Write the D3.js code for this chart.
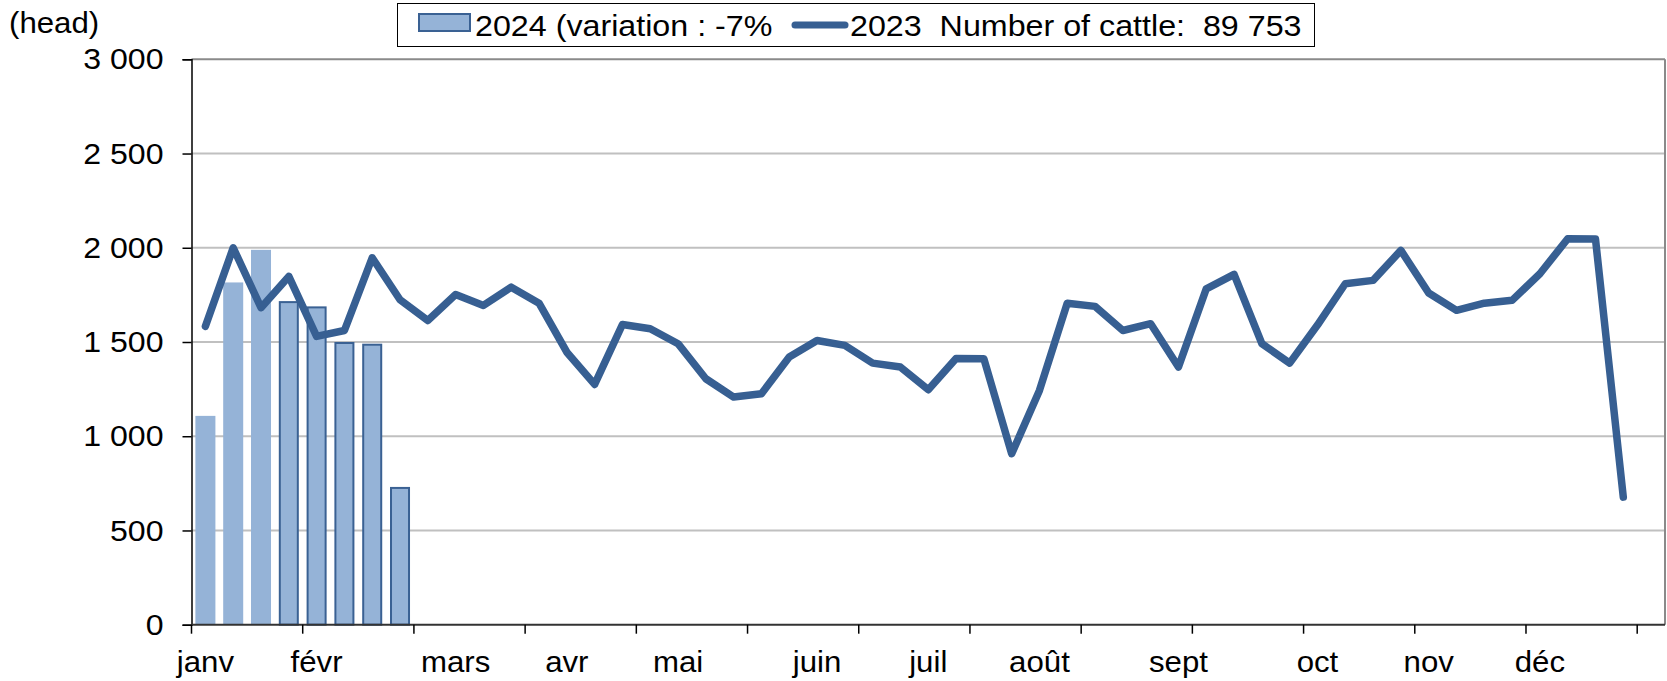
<!DOCTYPE html>
<html>
<head>
<meta charset="utf-8">
<script src="https://cdn.jsdelivr.net/npm/d3@7"></script>
<style>
  html, body { margin: 0; padding: 0; background: #fff; }
  svg { display: block; }
  text { font-family: "Liberation Sans", Arial, sans-serif; fill: #000; }
</style>
</head>
<body>
<svg id="chart" width="1667" height="681"></svg>
<script>
// ---- data ----
const weeks = [1,2,3,4,5,6,7,8,9,10,11,12,13,14,15,16,17,18,19,20,21,22,23,24,25,26,27,28,29,30,31,32,33,34,35,36,37,38,39,40,41,42,43,44,45,46,47,48,49,50,51,52,53];
const monthLabels = ["janv","févr","mars","avr","mai","juin","juil","août","sept","oct","nov","déc"];
const monthWeeks = [1,5,10,14,18,23,27,31,36,41,45,49];
const tickWeeks = [1,5,9,13,17,21,25,29,33,37,41,45,49,53];
const yTicks = [0,500,1000,1500,2000,2500,3000];
const values2024 = [1108,1816,1989,1717,1689,1500,1491,731];
const values2023 = [1583,2000,1682,1848,1530,1561,1947,1724,1614,1752,1694,1791,1706,1446,1275,1593,1570,1491,1305,1208,1225,1420,1508,1482,1388,1367,1247,1413,1411,907,1243,1706,1689,1561,1597,1367,1782,1859,1491,1388,1590,1809,1827,1986,1760,1668,1706,1721,1862,2048,2046,677];
const legend2024 = "2024 (variation : -7%";
const legend2023 = "2023  Number of cattle:  89 753";
const yUnit = "(head)";

// ---- layout ----
const pL = 191.5, pR = 1665, pT = 59.3, pB = 624.7;
const svg = d3.select("#chart");

const x = d3.scaleBand().domain(weeks).range([pL, pR]).paddingInner(0.28).paddingOuter(0.14);
const y = d3.scaleLinear().domain([0, 3000]).range([pB, pT]);
const fr = d3.formatLocale({decimal: ",", thousands: " ", grouping: [3], currency: ["", ""]});
const fmt = fr.format(",d");
const half = (x.step() - x.bandwidth()) / 2;
const boundary = w => x(w) - half;
const center = w => x(w) + x.bandwidth() / 2;

// gridlines
svg.append("g").selectAll("line").data(yTicks.filter(v => v > 0 && v < 3000)).join("line")
  .attr("x1", pL).attr("x2", pR).attr("y1", d => y(d)).attr("y2", d => y(d))
  .attr("stroke", "#c0c0c0").attr("stroke-width", 2);

// plot frame top/right
svg.append("line").attr("x1", pL).attr("x2", pR).attr("y1", y(3000)).attr("y2", y(3000))
  .attr("stroke", "#8a8a8a").attr("stroke-width", 2);
svg.append("line").attr("x1", pR).attr("x2", pR).attr("y1", y(3000)).attr("y2", y(0))
  .attr("stroke", "#8a8a8a").attr("stroke-width", 2);

// bars
svg.append("g").selectAll("rect").data(values2024).join("rect")
  .attr("x", (d, i) => x(weeks[i]) + (i < 3 ? 0 : 1))
  .attr("width", (d, i) => x.bandwidth() - (i < 3 ? 0 : 2))
  .attr("y", (d, i) => y(d) + (i < 3 ? 0 : 1))
  .attr("height", (d, i) => y(0) - y(d) - (i < 3 ? 0 : 1))
  .attr("fill", "#95b3d7")
  .attr("stroke", (d, i) => i < 3 ? "none" : "#3a6193")
  .attr("stroke-width", 2);

// y axis
const yAxis = d3.axisLeft(y).tickValues(yTicks).tickFormat(fmt).tickSize(9).tickPadding(19);
const gy = svg.append("g").attr("transform", `translate(${pL},0)`).call(yAxis);
gy.select(".domain").attr("stroke", "#000").attr("stroke-width", 1.5);
gy.selectAll(".tick line").attr("stroke", "#000").attr("stroke-width", 1.5);
gy.selectAll(".tick text").attr("font-size", 30).attr("font-family", "Liberation Sans, Arial, sans-serif").attr("fill", "#000")
  .attr("x", 0).attr("transform", "translate(-28,0) scale(1.07,1)");

// x axis: baseline line + ticks
svg.append("line").attr("x1", pL).attr("x2", pR).attr("y1", y(0)).attr("y2", y(0))
  .attr("stroke", "#333").attr("stroke-width", 2);
svg.append("g").selectAll("line").data(tickWeeks).join("line")
  .attr("x1", d => boundary(d)).attr("x2", d => boundary(d))
  .attr("y1", y(0)).attr("y2", y(0) + 9)
  .attr("stroke", "#000").attr("stroke-width", 1.5);
svg.append("g").selectAll("text").data(monthWeeks).join("text")
  .attr("transform", d => `translate(${center(d)},672) scale(1.04,1)`)
  .attr("text-anchor", "middle").attr("font-size", 30)
  .text((d, i) => monthLabels[i]);

// line 2023
const line = d3.line().x((d, i) => center(weeks[i])).y(d => y(d));
svg.append("path").datum(values2023).attr("d", line)
  .attr("fill", "none").attr("stroke", "#375f92").attr("stroke-width", 7.5)
  .attr("stroke-linejoin", "round").attr("stroke-linecap", "round");

// unit label
svg.append("text").attr("transform", "translate(9,33) scale(1.04,1)").attr("font-size", 30).text(yUnit);

// legend
const lg = svg.append("g");
lg.append("rect").attr("x", 397.5).attr("y", 3.5).attr("width", 917).attr("height", 43)
  .attr("fill", "#fff").attr("stroke", "#000").attr("stroke-width", 1);
lg.append("rect").attr("x", 419).attr("y", 14).attr("width", 51).attr("height", 17)
  .attr("fill", "#95b3d7").attr("stroke", "#3a6193").attr("stroke-width", 2);
lg.append("text").attr("transform", "translate(475,36) scale(1.075,1)").attr("font-size", 30).text(legend2024);
lg.append("line").attr("x1", 795).attr("x2", 845).attr("y1", 25).attr("y2", 25)
  .attr("stroke", "#375f92").attr("stroke-width", 7).attr("stroke-linecap", "round");
lg.append("text").attr("transform", "translate(850,36) scale(1.075,1)").attr("font-size", 30)
  .style("white-space", "pre").text(legend2023);
</script>
</body>
</html>
